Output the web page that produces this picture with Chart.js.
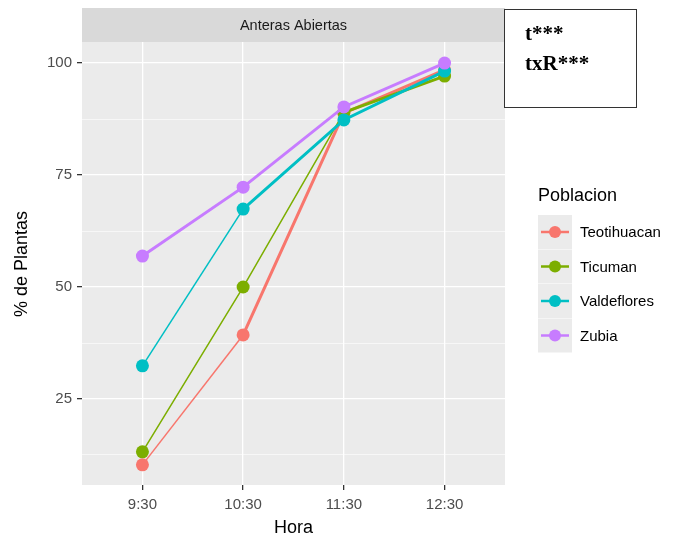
<!DOCTYPE html>
<html>
<head>
<meta charset="utf-8">
<script src="https://cdn.jsdelivr.net/npm/chart.js@4.4.0/dist/chart.umd.min.js"></script>
<style>
  html, body { margin: 0; padding: 0; background: #fff; }
  #wrap { width: 689px; height: 540px; position: relative; }
</style>
</head>
<body>
<div id="wrap"><canvas id="chart" width="689" height="540"></canvas></div>
<script>
// Horas de observación y % de plantas con anteras abiertas por población
const horas = ['9:30', '10:30', '11:30', '12:30'];
const poblaciones = ['Teotihuacan', 'Ticuman', 'Valdeflores', 'Zubia'];
const teotihuacan = [10.3, 39.3, 88.8, 98.5];
const ticuman = [13.2, 50.0, 89.0, 97.1];
const valdeflores = [32.4, 67.4, 87.3, 98.2];
const zubia = [56.9, 72.3, 90.2, 100.0];
const yTicks = [25, 50, 75, 100];

const colores = ['#F8766D', '#7CAE00', '#00BFC4', '#C77CFF'];
// grosor de cada tramo de línea
const grosores = [
  [1.5, 3, 3],
  [1.5, 1.5, 3],
  [1.5, 3, 3],
  [3, 3, 3],
];
const series = [teotihuacan, ticuman, valdeflores, zubia];

const FONT = '"Liberation Sans", Arial, sans-serif';

const datasets = series.map((vals, i) => ({
  label: poblaciones[i],
  data: vals.map((v, j) => ({ x: j, y: v })),
  borderColor: colores[i],
  backgroundColor: colores[i],
  pointBackgroundColor: colores[i],
  pointBorderWidth: 0,
  pointRadius: 6.5,
  borderWidth: 2,
  segment: {
    borderWidth: (ctx) => grosores[i][ctx.p0DataIndex],
  },
  tension: 0,
  order: series.length - i, // la última población queda encima
}));

// fondo del panel, franja del facet, títulos, leyenda y recuadro
const ggDecor = {
  id: 'ggDecor',
  beforeDraw(chart) {
    const { ctx, chartArea: a } = chart;
    ctx.save();
    ctx.fillStyle = '#EBEBEB';
    ctx.fillRect(a.left, a.top, a.right - a.left, a.bottom - a.top);
    // franja
    ctx.fillStyle = '#D9D9D9';
    ctx.fillRect(a.left, 8, a.right - a.left, a.top - 8);
    ctx.fillStyle = '#1A1A1A';
    ctx.font = '14.5px ' + FONT;
    ctx.textAlign = 'center';
    ctx.textBaseline = 'middle';
    ctx.fillText('Anteras Abiertas', (a.left + a.right) / 2, 26);
    ctx.restore();
  },
  afterDraw(chart) {
    const { ctx, chartArea: a } = chart;
    ctx.save();
    // títulos de ejes
    ctx.fillStyle = '#000';
    ctx.font = '18px ' + FONT;
    ctx.textAlign = 'center';
    ctx.textBaseline = 'middle';
    ctx.fillText('Hora', (a.left + a.right) / 2, 528);
    ctx.translate(22, 264);
    ctx.rotate(-Math.PI / 2);
    ctx.fillText('% de Plantas', 0, 0);
    ctx.restore();

    // leyenda
    ctx.save();
    ctx.font = '18px ' + FONT;
    ctx.fillStyle = '#000';
    ctx.textBaseline = 'middle';
    ctx.textAlign = 'left';
    ctx.fillText('Poblacion', 538, 196);
    chart.data.datasets.forEach((ds, i) => {
      const cy = 232 + i * 34.5;
      ctx.fillStyle = '#EBEBEB';
      ctx.fillRect(538, cy - 17, 34, 34);
      ctx.strokeStyle = ds.borderColor;
      ctx.lineWidth = 2.5;
      ctx.beginPath();
      ctx.moveTo(541, cy);
      ctx.lineTo(569, cy);
      ctx.stroke();
      ctx.fillStyle = ds.borderColor;
      ctx.beginPath();
      ctx.arc(555, cy, 6, 0, Math.PI * 2);
      ctx.fill();
      ctx.fillStyle = '#000';
      ctx.font = '15px ' + FONT;
      ctx.fillText(ds.label, 580, cy + 1);
    });
    ctx.restore();

    // recuadro con significancia
    ctx.save();
    ctx.fillStyle = '#fff';
    ctx.fillRect(504, 9, 133, 99);
    ctx.strokeStyle = '#333';
    ctx.lineWidth = 1;
    ctx.strokeRect(504.5, 9.5, 132, 98);
    ctx.fillStyle = '#000';
    ctx.font = 'bold 21px "Liberation Serif", "Times New Roman", serif';
    ctx.textAlign = 'left';
    ctx.textBaseline = 'alphabetic';
    ctx.fillText('t***', 525, 40);
    ctx.fillText('txR***', 525, 70);
    ctx.restore();
  },
};

new Chart(document.getElementById('chart'), {
  type: 'line',
  data: { datasets },
  options: {
    responsive: false,
    animation: false,
    layout: { padding: { left: 0, top: 42, right: 184, bottom: 0 } },
    plugins: {
      legend: { display: false },
      tooltip: { enabled: false },
    },
    scales: {
      x: {
        type: 'linear',
        min: -0.6,
        max: 3.6,
        afterBuildTicks: (scale) => {
          scale.ticks = horas.map((h, i) => ({ value: i }));
        },
        afterFit: (scale) => { scale.height = 55; },
        ticks: {
          callback: (v) => horas[v],
          color: '#4D4D4D',
          font: { family: FONT, size: 15 },
          padding: 6,
          maxRotation: 0,
        },
        grid: {
          color: '#FFFFFF',
          lineWidth: 1.3,
          tickColor: '#333333',
          tickLength: 5,
          drawTicks: true,
        },
        border: { display: false },
      },
      y: {
        type: 'linear',
        min: 5.8,
        max: 104.7,
        afterBuildTicks: (scale) => {
          const t = [];
          for (let v = 12.5; v <= 100; v += 12.5) t.push({ value: v });
          scale.ticks = t;
        },
        afterFit: (scale) => { scale.width = 82; },
        ticks: {
          callback: (v) => (yTicks.includes(v) ? String(v) : ''),
          color: '#4D4D4D',
          font: { family: FONT, size: 15 },
          padding: 5,
        },
        grid: {
          color: '#FFFFFF',
          lineWidth: (c) => (c.tick && yTicks.includes(c.tick.value) ? 1.3 : 0.6),
          tickColor: (c) => (c.tick && yTicks.includes(c.tick.value) ? '#333333' : 'rgba(0,0,0,0)'),
          tickLength: 5,
        },
        border: { display: false },
      },
    },
  },
  plugins: [ggDecor],
});
</script>
</body>
</html>
